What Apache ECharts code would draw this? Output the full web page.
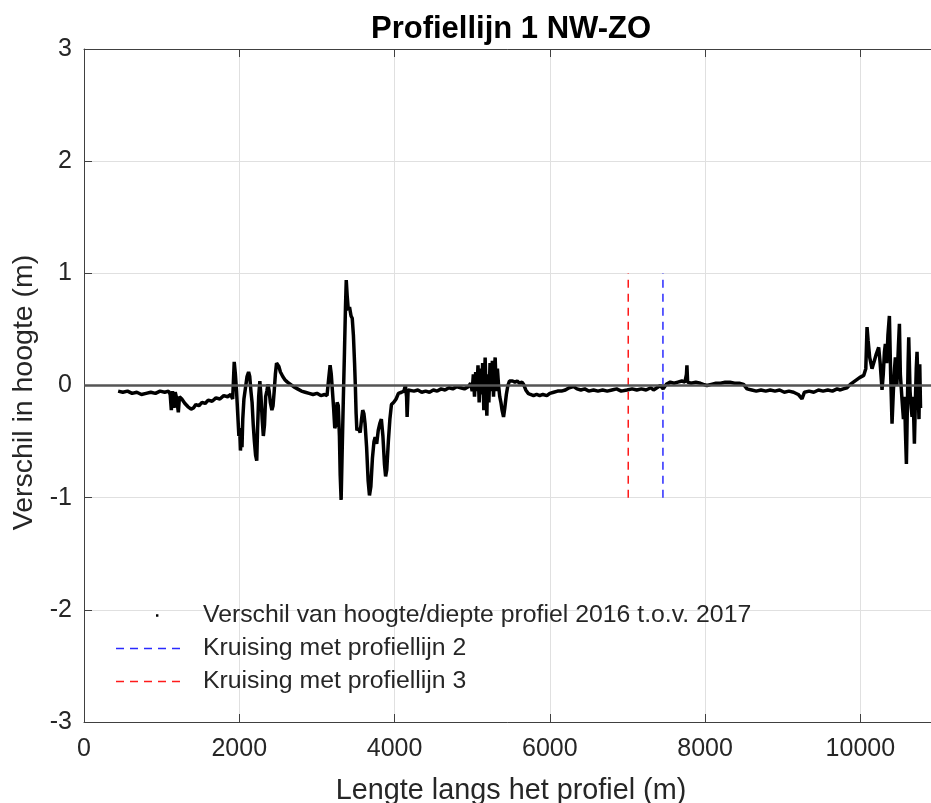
<!DOCTYPE html>
<html>
<head>
<meta charset="utf-8">
<script src="https://cdn.jsdelivr.net/npm/echarts@6/dist/echarts.min.js"></script>
<style>html,body{margin:0;padding:0;background:#fff}#c{width:931px;height:803px}</style>
</head>
<body>
<div id="c"></div>
<script>
// Afstand langs het profiel (m)
const profileX = [440,500,560,620,680,740,800,860,920,980,1040,1090,
1110,1125,1140,1160,1175,1195,1215,1230,1260,1300,1340,1380,1410,1440,1480,1520,1560,1600,1650,1700,1750,1800,1850,1890,1915,
1935,1950,1965,1980,1995,2005,2015,2025,2035,2045,2060,2080,2100,2120,2135,2150,2165,2180,2195,2210,2225,2235,2250,2265,2280,2295,2310,2325,2340,2355,2370,2385,2400,2420,2435,2450,2465,2480,2495,2510,2530,2560,2590,2620,2660,2700,2750,2800,2850,2900,2950,3000,3050,3100,3130,
3150,3170,3185,3200,3215,3230,3245,3260,3275,3290,3300,3312,3325,3340,3355,3368,3378,3390,3405,3420,3440,3455,3470,3485,3495,3505,3515,3535,3557,3575,3590,3605,3620,3640,3660,3677,3695,3715,3735,3750,3770,3790,3810,3830,3850,3870,3885,3900,3920,3940,3960,3990,4020,4050,4090,4120,4140,4155,4162,4175,4200,4250,4300,4350,4400,4450,4500,4550,4600,4650,4700,4750,4800,4850,4900,4950,
4980,5000,5015,5030,5045,5060,5075,5090,5105,5120,5135,5150,5167,5180,5189,5200,5215,5230,5245,5260,5275,5290,5296,5310,5325,5340,5355,5370,5385,5404,5420,5440,5460,5480,5500,5520,5550,5580,5610,5640,5662,5690,5720,5750,5790,5830,5870,5910,5962,6000,6050,6100,6150,6200,6250,6306,6350,6400,6450,6500,6563,6620,6680,6740,6800,6860,6920,6993,7060,7120,7180,7240,7300,7336,7380,7423,7460,7500,7552,7600,7650,7700,7740,7760,7766,7775,7820,7880,7940,7977,8024,8080,8140,8200,8260,8320,8380,8440,8496,8540,8600,8660,8720,8780,8840,8900,8960,9020,9080,9140,9200,9248,9280,9340,9400,9460,9520,9580,9640,9700,9742,9780,9828,9870,9910,9950,9990,10043,10070,10086,10100,10120,10150,10180,10205,10236,10255,10279,10295,10310,10322,10340,10355,10374,10390,10408,10425,10440,10451,10470,10490,10503,10515,10537,10555,10570,10580,10593,10605,10615,10623,10640,10655,10666,10680,10696,10710,10720,10730,10745,10755,10765,10775];
// Verschil in hoogte (m)
const profileY = [-0.05,-0.06,-0.05,-0.07,-0.06,-0.08,-0.07,-0.06,-0.07,-0.05,-0.06,-0.05,
-0.08,-0.22,-0.05,-0.20,-0.06,-0.12,-0.24,-0.10,-0.12,-0.16,-0.19,-0.21,-0.20,-0.17,-0.18,-0.15,-0.16,-0.13,-0.14,-0.11,-0.12,-0.09,-0.10,-0.08,-0.12,
0.21,0.10,-0.05,-0.25,-0.45,-0.38,-0.58,-0.45,-0.55,-0.30,-0.12,-0.02,0.08,0.12,0.08,-0.05,-0.15,-0.35,-0.50,-0.62,-0.67,-0.40,-0.10,0.04,-0.10,-0.30,-0.45,-0.35,-0.10,-0.05,0.01,-0.05,-0.15,-0.22,-0.18,-0.05,0.10,0.20,0.21,0.17,0.12,0.08,0.05,0.03,0.01,-0.01,-0.03,-0.05,-0.06,-0.07,-0.08,-0.07,-0.09,-0.08,-0.09,
0.05,0.18,0.10,-0.05,-0.20,-0.38,-0.35,-0.15,-0.18,-0.45,-0.80,-1.02,-0.60,-0.13,0.30,0.70,0.94,0.80,0.67,0.70,0.62,0.60,0.45,0.20,0.00,-0.25,-0.40,-0.38,-0.42,-0.30,-0.22,-0.25,-0.34,-0.55,-0.85,-0.98,-0.90,-0.65,-0.50,-0.46,-0.52,-0.40,-0.34,-0.30,-0.45,-0.70,-0.81,-0.75,-0.50,-0.30,-0.17,-0.15,-0.12,-0.07,-0.06,-0.05,0.00,-0.10,-0.28,-0.04,-0.04,-0.05,-0.04,-0.06,-0.05,-0.06,-0.04,-0.05,-0.03,-0.04,-0.02,-0.03,-0.01,-0.02,-0.03,-0.01,
0.02,-0.05,0.10,-0.10,0.12,-0.05,0.18,-0.15,0.15,-0.08,0.20,-0.22,0.25,-0.10,-0.27,0.10,-0.15,0.20,-0.05,0.22,-0.10,0.18,0.25,-0.05,0.15,0.00,-0.10,-0.15,-0.22,-0.28,-0.20,-0.08,0.00,0.04,0.05,0.04,0.03,0.04,0.02,0.03,0.01,-0.04,-0.07,-0.08,-0.09,-0.08,-0.09,-0.08,-0.09,-0.07,-0.06,-0.05,-0.05,-0.04,-0.02,-0.01,-0.03,-0.04,-0.03,-0.05,-0.04,-0.05,-0.04,-0.05,-0.04,-0.03,-0.05,-0.04,-0.03,-0.04,-0.03,-0.04,-0.02,-0.04,-0.02,0.00,-0.03,0.01,0.03,0.02,0.03,0.04,0.03,0.10,0.18,0.03,0.02,0.03,0.02,0.01,0.00,0.01,0.02,0.02,0.03,0.03,0.02,0.02,0.01,-0.03,-0.04,-0.05,-0.04,-0.05,-0.04,-0.05,-0.04,-0.06,-0.05,-0.06,-0.08,-0.12,-0.06,-0.05,-0.06,-0.04,-0.05,-0.04,-0.05,-0.03,-0.04,-0.03,-0.02,0.01,0.03,0.05,0.07,0.09,0.15,0.52,0.40,0.25,0.15,0.22,0.28,0.34,0.20,-0.04,0.10,0.30,0.37,0.20,0.45,0.62,0.10,-0.34,-0.05,0.15,0.25,0.00,0.35,0.55,0.10,-0.13,-0.30,-0.10,-0.40,-0.70,-0.20,0.20,0.43,-0.05,-0.20,-0.28,-0.10,-0.52,-0.10,0.15,0.30,-0.05,-0.30,0.19,-0.20];

const crossing2X = 7457;   // Kruising met profiellijn 2
const crossing3X = 7010;   // Kruising met profiellijn 3
const crossingY = [-1, 1];
const xTicks = [0, 2000, 4000, 6000, 8000, 10000];
const yTicks = [-3, -2, -1, 0, 1, 2, 3];

const FONT = '"Liberation Sans", Arial, Helvetica, sans-serif';
const profileData = profileX.map((x, i) => [x, profileY[i]]);

const DASH_ICON = 'path://M0,0h0.01v0.01h-0.01z M0,6.2h8v1.6h-8z M14,6.2h8v1.6h-8z M28,6.2h8v1.6h-8z M42,6.2h8v1.6h-8z M56,6.2h8v1.6h-8z M71.99,13.99h0.01v0.01h-0.01z';
const DOT_ICON = 'path://M0,0h0.01v0.01h-0.01z M40,5.8h2.4v2.4h-2.4z M71.99,13.99h0.01v0.01h-0.01z';

const chart = echarts.init(document.getElementById('c'), null, {renderer: 'canvas'});
const axisCol = '#404040';
const option = {
  animation: false,
  backgroundColor: '#fff',
  title: {
    text: 'Profiellijn 1 NW-ZO',
    left: 366, top: 9,
    textStyle: {fontFamily: FONT, fontSize: 31, fontWeight: 'bold', color: '#000'}
  },
  grid: {left: 84, top: 49, width: 854, height: 673, containLabel: false, outerBoundsMode: 'none'},
  legend: {
    orient: 'vertical', left: 116, top: 603, padding: 0,
    itemWidth: 72, itemHeight: 14, itemGap: 8,
    textStyle: {fontFamily: FONT, fontSize: 24.8, color: '#262626', padding: [0, 0, 0, 10], lineHeight: 24},
    data: [
      {name: 'Verschil van hoogte/diepte profiel 2016 t.o.v. 2017', icon: DOT_ICON},
      {name: 'Kruising met profiellijn 2', icon: DASH_ICON},
      {name: 'Kruising met profiellijn 3', icon: DASH_ICON}
    ]
  },
  xAxis: [{
    type: 'value', min: 0, max: 11000, interval: 2000,
    name: 'Lengte langs het profiel (m)', nameLocation: 'middle', nameGap: 54,
    nameTextStyle: {fontFamily: FONT, fontSize: 28.8, color: '#262626', lineHeight: 30},
    axisLine: {show: true, onZero: false, lineStyle: {color: axisCol, width: 1}},
    axisTick: {show: true, inside: true, length: 8, lineStyle: {color: axisCol}},
    axisLabel: {margin: 15, fontFamily: FONT, fontSize: 25, color: '#262626',
      formatter: v => (xTicks.indexOf(v) >= 0 ? String(v) : '')},
    splitLine: {show: true, lineStyle: {color: '#e0e0e0', width: 1}}
  }, {
    type: 'value', position: 'top', min: 0, max: 11000, interval: 2000,
    axisLine: {show: true, onZero: false, lineStyle: {color: axisCol, width: 1}},
    axisTick: {show: true, inside: true, length: 8, lineStyle: {color: axisCol}},
    axisLabel: {show: false}, splitLine: {show: false}
  }],
  yAxis: [{
    type: 'value', min: -3, max: 3, interval: 1,
    name: 'Verschil in hoogte (m)', nameLocation: 'middle', nameGap: 42, nameRotate: 90,
    nameTextStyle: {fontFamily: FONT, fontSize: 28.5, color: '#262626', padding: [0, 14, 0, 0]},
    axisLine: {show: true, onZero: false, lineStyle: {color: axisCol, width: 1}},
    axisTick: {show: true, inside: true, length: 8, lineStyle: {color: axisCol}},
    axisLabel: {margin: 12, fontFamily: FONT, fontSize: 25, color: '#262626',
      formatter: v => (yTicks.indexOf(v) >= 0 ? String(v) : '')},
    splitLine: {show: true, lineStyle: {color: '#e0e0e0', width: 1}}
  }],
  series: [
    {
      name: 'Verschil van hoogte/diepte profiel 2016 t.o.v. 2017',
      type: 'line', data: profileData, symbol: 'none', z: 3,
      color: '#000',
      lineStyle: {color: '#000', width: 3.5}
    },
    {
      name: 'Kruising met profiellijn 2', type: 'line', symbol: 'none', z: 4,
      color: '#2a2aff',
      data: crossingY.map(y => [crossing2X, y]),
      lineStyle: {color: '#2a2aff', width: 1.5, type: [8, 6]}
    },
    {
      name: 'Kruising met profiellijn 3', type: 'line', symbol: 'none', z: 4,
      color: '#ff1a1a',
      data: crossingY.map(y => [crossing3X, y]),
      lineStyle: {color: '#ff1a1a', width: 1.5, type: [8, 6]}
    },
    {
      name: 'nullijn', type: 'line', symbol: 'none', z: 5, silent: true,
      data: [[0, 0], [11000, 0]],
      lineStyle: {color: '#555555', width: 2.5}
    }
  ]
};
chart.setOption(option);
</script>
</body>
</html>
